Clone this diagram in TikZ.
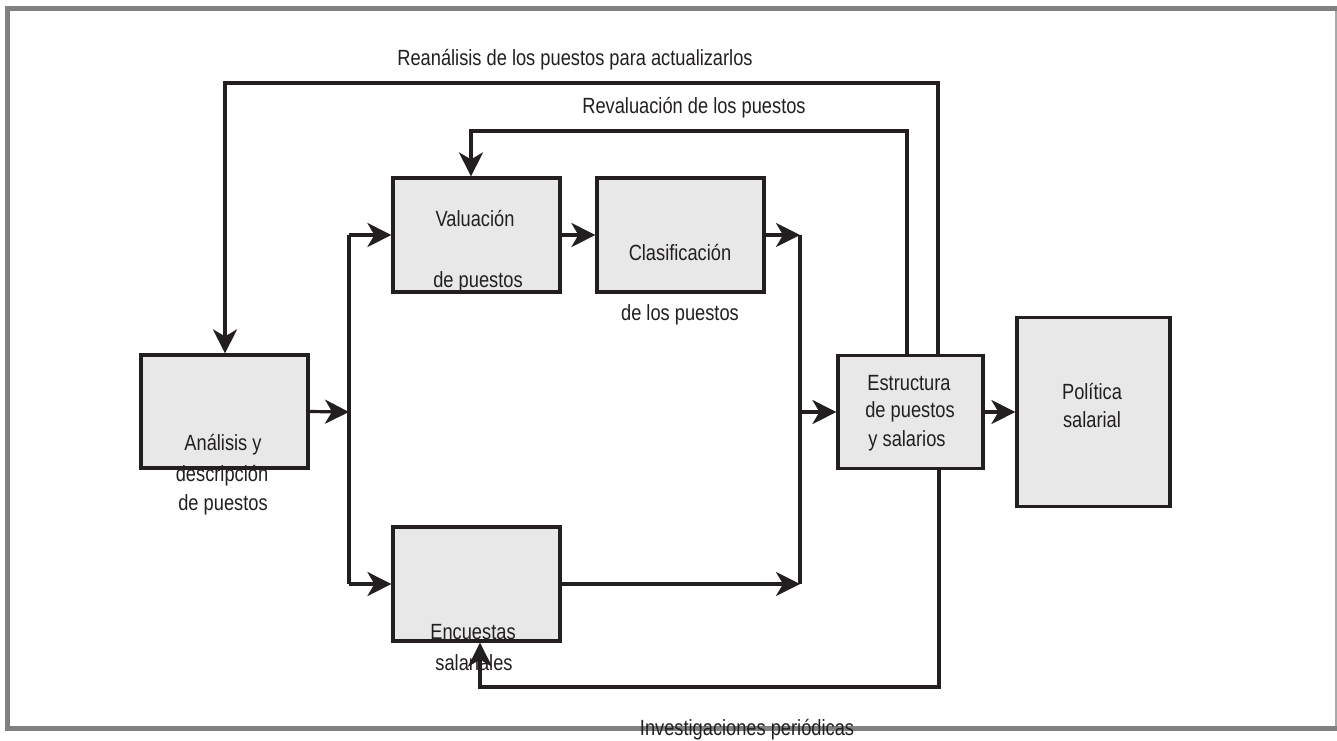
\documentclass[tikz,border=0pt]{standalone}
\usepackage{fontspec}
\setmainfont{Liberation Sans}[FakeStretch=0.83]
\usetikzlibrary{arrows.meta}
\definecolor{ink}{HTML}{231F20}
\definecolor{boxfill}{HTML}{E8E8E8}
\definecolor{framegray}{HTML}{808080}
\definecolor{edgegray}{HTML}{A8A8A8}
\begin{document}
\begin{tikzpicture}[x=1pt,y=-1pt,
  stage/.style={draw=ink, fill=boxfill, line width=3.2pt, inner sep=0pt},
  lbl/.style={text=ink, font=\fontsize{22}{24}\selectfont, inner sep=0pt},
  link/.style={draw=ink, line width=3.2pt},
  flow/.style={link, -{Stealth[length=24pt,width=24pt,inset=7pt]}}]
\useasboundingbox (0,0) rectangle (1337,740);
\fill[white] (0,0) rectangle (1337,740);

% outer frame
\draw[edgegray, line width=1.5pt] (1336,6) -- (1336,731);
\draw[framegray, line width=5pt] (5,8.5) -- (1337,8.5);
\draw[framegray, line width=5pt] (7.5,6) -- (7.5,731);
\draw[framegray, line width=5pt] (5,728.5) -- (1337,728.5);

% stages
\node[stage, minimum width=167pt, minimum height=113pt] (analisis)   at (224.5,411.5) {};
\node[stage, minimum width=167pt, minimum height=114pt] (valuacion)  at (476.5,235) {};
\node[stage, minimum width=167pt, minimum height=114pt] (clasif)     at (680.5,235) {};
\node[stage, minimum width=167pt, minimum height=114pt] (encuestas)  at (476.5,584) {};
\node[stage, minimum width=145pt, minimum height=113pt] (estructura) at (910.5,412) {};
\node[stage, minimum width=153pt, minimum height=189pt] (politica)   at (1093.5,412) {};

% split and merge lines
\coordinate (splitL) at (349,412);
\coordinate (mergeR) at (800,412);
\draw[link] (splitL |- valuacion.west) -- (splitL |- encuestas.west);
\draw[link] (mergeR |- clasif.east) -- (mergeR |- encuestas.east);
\draw[flow] (analisis.east) -- (splitL);
\draw[flow] (splitL |- valuacion.west) -- (valuacion.west);
\draw[flow] (splitL |- encuestas.west) -- (encuestas.west);
\draw[flow] (valuacion.east) -- (clasif.west);
\draw[flow] (clasif.east) -- (mergeR |- clasif.east);
\draw[flow] (encuestas.east) -- (mergeR |- encuestas.east);
\draw[flow] (mergeR) -- (estructura.west);
\draw[flow] (estructura.east) -- (politica.west);

% feedback loops
\coordinate (reA) at (938,83);
\coordinate (reB) at (225,83);
\draw[flow] (estructura.north -| reA) -- (reA) -- (reB) -- (analisis.north -| reB);
\coordinate (rvA) at (907,131);
\coordinate (rvB) at (471,131);
\draw[flow] (estructura.north -| rvA) -- (rvA) -- (rvB) -- (valuacion.north -| rvB);
\coordinate (inA) at (939,687);
\coordinate (inB) at (480,687);
\draw[flow] (estructura.south -| inA) -- (inA) -- (inB) -- (encuestas.south -| inB);

% texts
\node[lbl] (tRe)  at (575,60)  {Reanálisis de los puestos para actualizarlos};
\node[lbl] (tRv)  at (694,108) {Revaluación de los puestos};
\node[lbl] (tVa1) at (475,218) {Valuación};
\node[lbl] (tVa2) at (478,282) {de puestos};
\node[lbl] (tCl1) at (680,252) {Clasificación};
\node[lbl] (tCl2) at (680,315) {de los puestos};
\node[lbl] (tAn1) at (223,445) {Análisis y};
\node[lbl] (tAn2) at (222,476) {descripción};
\node[lbl] (tAn3) at (223,505) {de puestos};
\node[lbl] (tEn1) at (473,632) {Encuestas};
\node[lbl] (tEn2) at (474,663) {salariales};
\node[lbl] (tEs1) at (909,383) {Estructura};
\node[lbl] (tEs2) at (910,412) {de puestos};
\node[lbl] (tEs3) at (907,441) {y salarios};
\node[lbl] (tPo1) at (1092,391) {Política};
\node[lbl] (tPo2) at (1092,420) {salarial};
\node[lbl] (tIn)  at (747,730) {Investigaciones periódicas};
\end{tikzpicture}
\end{document}
